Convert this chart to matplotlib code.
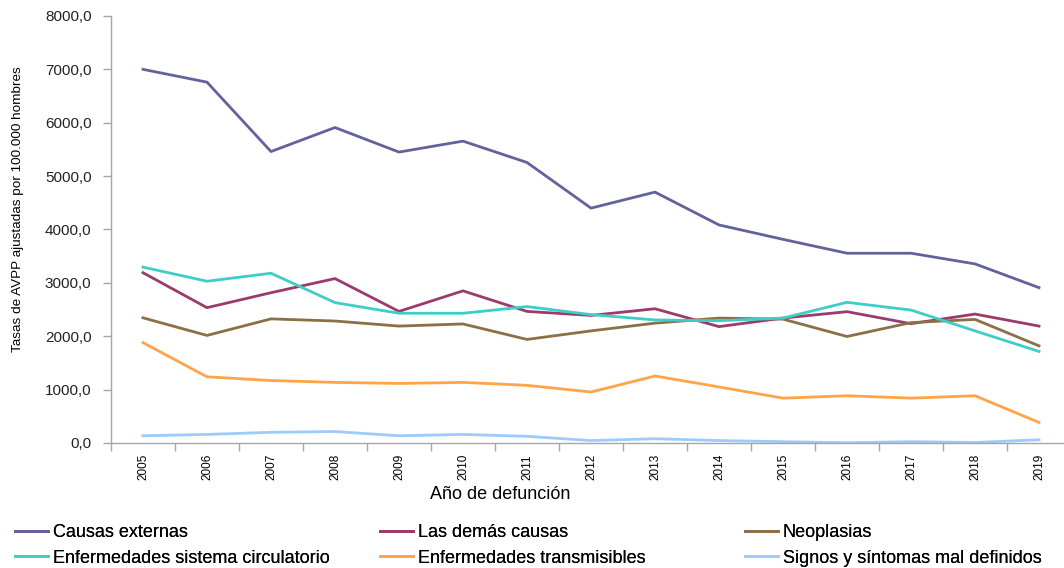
import matplotlib
matplotlib.use('Agg')
import matplotlib.pyplot as plt
import matplotlib.ticker as mticker
import numpy as np

years = list(range(2005, 2020))

causas_externas = [7000, 6760, 5460, 5910, 5450, 5655, 5255, 4400, 4700, 4085, 3815, 3555, 3555, 3355, 2910]
demas_causas = [3190, 2535, 2815, 3080, 2465, 2850, 2465, 2390, 2515, 2180, 2340, 2460, 2235, 2415, 2190]
neoplasias = [2345, 2015, 2325, 2285, 2190, 2230, 1940, 2100, 2245, 2340, 2320, 1995, 2255, 2315, 1820]
circulatorio = [3295, 3030, 3180, 2630, 2430, 2430, 2555, 2405, 2305, 2290, 2340, 2635, 2490, 2100, 1715]
transmisibles = [1880, 1240, 1170, 1135, 1115, 1135, 1080, 955, 1255, 1050, 840, 885, 840, 885, 385]
signos = [135, 160, 200, 215, 135, 160, 125, 45, 80, 45, 25, 5, 25, 10, 60]

series_names = ['Causas externas', 'Las demás causas', 'Neoplasias',
                'Enfermedades sistema circulatorio', 'Enfermedades transmisibles',
                'Signos y síntomas mal definidos']
series_values = [causas_externas, demas_causas, neoplasias, circulatorio, transmisibles, signos]
colors = ['#62629c', '#9c3a6c', '#8b7046', '#3fcdc8', '#ffa448', '#9ecbff']

plt.rcParams['font.family'] = ['Liberation Sans', 'DejaVu Sans']

fig = plt.figure(figsize=(10.64, 5.68), dpi=100)
ax = fig.add_axes([0.1043, 0.2201, 0.9023, 0.7518])

lines = {}
for name, vals, col in zip(series_names, series_values, colors):
    ln, = ax.plot(years, vals, color=col, lw=2.0, label=name)
    lines[name] = ln

ax.set_xlim(2004.5, 2019.5)
ax.set_ylim(0, 8000)
ax.set_yticks(np.arange(0, 8001, 1000))
ax.yaxis.set_major_formatter(mticker.FuncFormatter(lambda v, p: f'{v:.1f}'.replace('.', ',')))

ax.set_xticks(years)
ax.set_xticklabels([str(y) for y in years], rotation=90, fontsize=8.5)
ax.set_xticks(np.arange(2004.5, 2020, 1), minor=True)
ax.tick_params(axis='x', which='major', length=0, pad=8)
ax.tick_params(axis='x', which='minor', length=6, color='#a6a6a6', width=1)
ax.tick_params(axis='y', length=6, color='#a6a6a6', width=1, pad=8, labelsize=11, labelcolor='#222222')

for side in ['top', 'right']:
    ax.spines[side].set_visible(False)
for side in ['left', 'bottom']:
    ax.spines[side].set_color('#a6a6a6')
    ax.spines[side].set_linewidth(1)

ax.set_ylabel('Tasas de AVPP ajustadas por 100.000 hombres', fontsize=9.7, va='center')
ax.yaxis.set_label_coords(-0.097, 0.548)
ax.set_xlabel('Año de defunción', fontsize=13, va='center')
ax.xaxis.set_label_coords(0.405, -0.121)

# legend: three columns of two entries each
cols = [(['Causas externas', 'Enfermedades sistema circulatorio'], 15),
        (['Las demás causas', 'Enfermedades transmisibles'], 380),
        (['Neoplasias', 'Signos y síntomas mal definidos'], 745)]
for names, xpx in cols:
    leg = fig.legend([lines[n] for n in names], names, loc='center left',
                     bbox_to_anchor=(xpx / 1064, 1 - 545.5 / 568), frameon=False,
                     borderpad=0, borderaxespad=0, handlelength=1.8, handletextpad=0.3,
                     labelspacing=0.45, fontsize=13)
    fig.add_artist(leg)

fig.savefig('out.png', dpi=100)
